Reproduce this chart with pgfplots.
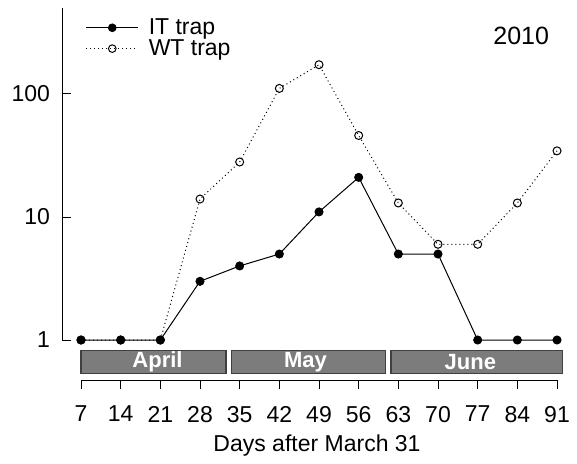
\documentclass[border=0pt]{standalone}
\usepackage{pgfplots}
\pgfplotsset{compat=1.18}
\usepackage{fontspec}
\setmainfont{Liberation Sans}
\definecolor{barfill}{HTML}{7C7C7C}
\definecolor{barline}{HTML}{404040}
\begin{document}
\begin{tikzpicture}
\useasboundingbox (-31pt,-41.5pt) rectangle (257.5pt,190pt);
\begin{axis}[
  at={(0,0)}, anchor=south west,
  scale only axis, width=254pt, height=186pt,
  xmin=3.647, xmax=93.29,
  ymode=log, ymin=0.4729, ymax=500,
  axis x line*=bottom, axis y line*=left,
  x axis line style={draw=none}, y axis line style={draw=none},
  xtick={7,14,...,91},
  ytick={1,10,100}, yticklabels={1,10,100},
  yminorticks=false,
  /pgf/number format/assume math mode=true,
  xtick align=outside, ytick align=inside,
  major tick length=4.5pt,
  tick style={black, line width=0.5pt},
  tick label style={font=\fontsize{11.5}{13}\selectfont},
  xticklabel style={yshift=-5pt},
  yticklabel style={xshift=-2.5pt},
  xlabel={Days after March 31},
  xlabel style={at={(axis description cs:0.502,0)}, anchor=center, yshift=-33pt, font=\fontsize{11.5}{13}\selectfont},
  clip=false,
  legend style={at={(rel axis cs:0.046,0.984)}, anchor=north west, draw=none, fill=none,
    font=\fontsize{11.5}{13}\selectfont, row sep=-3pt, inner sep=0pt,
    nodes={inner sep=2pt},
    /tikz/every odd column/.append style={column sep=3pt}},
  legend cell align=left,
  legend image code/.code={\draw[mark repeat=2,mark phase=2,#1,mark size=1.9pt] plot coordinates {(0pt,0pt) (13pt,0pt) (26pt,0pt)};},
]
\addplot[black, line width=0.5pt, mark=*, mark size=2pt, mark options={solid, fill=black}]
  coordinates {(7,1) (14,1) (21,1) (28,3) (35,4) (42,5) (49,11) (56,21) (63,5) (70,5) (77,1) (84,1) (91,1)};
\addlegendentry{IT trap}
\addplot[black, line width=0.5pt, dash pattern=on 0.5pt off 1.5pt, mark=o, mark size=2pt, mark options={solid, fill=white}]
  coordinates {(7,1) (14,1) (21,1) (28,14) (35,28) (42,111) (49,173) (56,46) (63,13) (70,6) (77,6) (84,13) (91,34.5)};
\addlegendentry{WT trap}
% axis lines
\draw[line width=0.5pt] (axis cs:3.647,1) -- (axis cs:3.647,500);
\draw[line width=0.5pt] (axis cs:7,0.4729) -- (axis cs:91,0.4729);
% month bars
\draw[fill=barfill, draw=barline, line width=0.6pt] (axis cs:7,0.536) rectangle (axis cs:32.6,0.818);
\draw[fill=barfill, draw=barline, line width=0.6pt] (axis cs:33.5,0.536) rectangle (axis cs:60.8,0.818);
\draw[fill=barfill, draw=barline, line width=0.6pt] (axis cs:61.7,0.536) rectangle (axis cs:91.9,0.818);
\node[white, font=\fontsize{11}{12}\selectfont\bfseries] at (axis cs:20.5,0.662) {April};
\node[white, font=\fontsize{11}{12}\selectfont\bfseries] at (axis cs:46.6,0.662) {May};
\node[white, font=\fontsize{11}{12}\selectfont\bfseries] at (axis cs:75.7,0.662) {June};
\node[font=\fontsize{12.5}{14}\selectfont] at (rel axis cs:0.904,0.925) {2010};
\end{axis}
\end{tikzpicture}
\end{document}
